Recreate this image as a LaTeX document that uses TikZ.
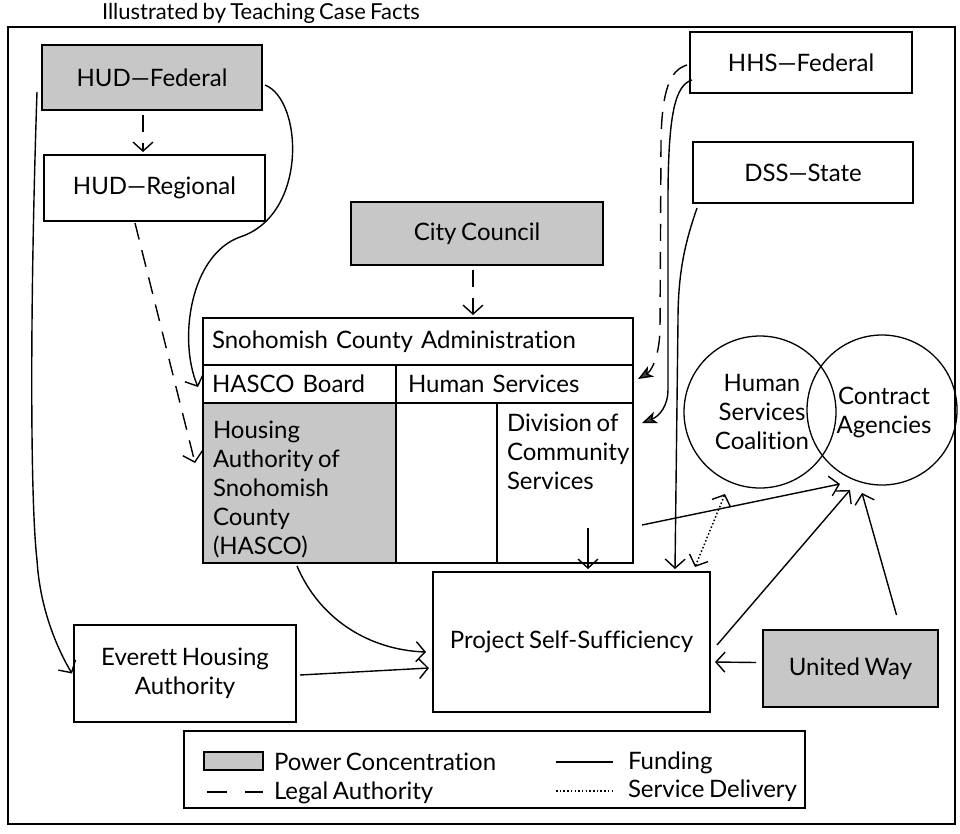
\documentclass[tikz,border=0pt]{standalone}
\usepackage{fontspec}
\setmainfont{Lato}[Ligatures={TeX,NoCommon}, WordSpace=0.75]
\usetikzlibrary{arrows.meta,calc}
\definecolor{shade}{gray}{0.78}
\begin{document}
\begin{tikzpicture}[x=1pt,y=-1pt,
  every node/.style={font=\fontsize{24}{29}\selectfont, inner sep=0pt, outer sep=0pt},
  box/.style={draw, line width=1.6pt, rectangle},
  pwr/.style={box, fill=shade},
  conn/.style={line width=1.4pt},
  fund/.style={conn, -{Straight Barb[length=9pt,width=20pt,line width=1.4pt]}},
  legal/.style={fund, dash pattern=on 17pt off 11pt},
  fillarrow/.style={conn, -{Stealth[length=15pt,width=12pt,inset=4pt,fill=black!75]}},
  legalfill/.style={fillarrow, dash pattern=on 17pt off 11pt},
  dots/.style={conn, line width=1.5pt, dash pattern=on 1.5pt off 2.2pt},
  svc/.style={dots, {Straight Barb[length=9pt,width=20pt,line width=1.4pt]}-{Straight Barb[length=9pt,width=20pt,line width=1.4pt]}},
]
\useasboundingbox (0,0) rectangle (960,833);
% outer frame
\draw[line width=1.4pt] (8,27) rectangle (955,824);
\node[anchor=base west, font=\fontsize{22}{26}\selectfont] (title) at (102,19) {Illustrated by Teaching Case Facts};

% top boxes
\node[pwr, minimum width=220pt, minimum height=65pt] (hudf) at (152,77.5) {HUD—Federal};
\node[box, minimum width=221pt, minimum height=66pt] (hudr) at (154.5,188) {HUD—Regional};
\node[pwr, minimum width=252pt, minimum height=63pt] (city) at (477,233.5) {City Council};
\node[box, minimum width=222pt, minimum height=61pt] (hhs) at (801,62.5) {HHS—Federal};
\node[box, minimum width=220pt, minimum height=61pt] (dss) at (803,172.5) {DSS—State};

% county administration block
\node[box, minimum width=430pt, minimum height=47pt, text width=412pt, align=left] (sca) at (418,341.5) {Snohomish County Administration};
\node[box, minimum width=193pt, minimum height=38pt, text width=175pt, align=left] (board) at (299.5,384) {HASCO Board};
\node[box, minimum width=237pt, minimum height=38pt, text width=213pt, align=left] (hs) at (514.5,384) {Human Services};
\node[pwr, minimum width=193pt, minimum height=160pt] (hasco) at (299.5,483) {};
\node[box, minimum width=101pt, minimum height=160pt] (blank) at (446.5,483) {};
\node[box, minimum width=136pt, minimum height=160pt] (dcs) at (565,483) {};
\node[anchor=north west, align=left] (hascot) at (213,421) {Housing\\Authority of\\Snohomish\\County\\(HASCO)};
\node[anchor=north west, align=left] (dcst) at (507,414) {Division of\\Community\\Services};

% lower boxes
\node[box, minimum width=277pt, minimum height=140pt] (pss) at (571.5,642) {Project Self-Sufficiency};
\node[box, minimum width=222pt, minimum height=97pt, align=center] (eha) at (185,673.5) {Everett Housing\\Authority};
\node[pwr, minimum width=175pt, minimum height=77pt] (uw) at (850.5,668.5) {United Way};

% circles
\node[draw, circle, line width=1.3pt, minimum size=152pt] (hsc) at (760,412) {};
\node[draw, circle, line width=1.3pt, minimum size=150pt] (ca) at (882,410) {};
\node[align=center] (hsct) at (762,412) {Human\\Services\\Coalition};
\node[align=center] (cat) at (884,412) {Contract\\Agencies};

% connectors
\draw[legal] ([xshift=-9pt,yshift=-5pt]hudf.south) -- ([xshift=-11.5pt,yshift=3pt]hudr.north);
\coordinate (bend1) at (240,237);
\draw[fund] ([xshift=3pt,yshift=-7.5pt]hudf.east) .. controls (303,100) and (308,215) .. (bend1)
  .. controls (190,255) and (178,340) .. ([xshift=-5pt,yshift=-3pt]board.west);
\draw[legal] ([xshift=-19.5pt,yshift=-2pt]hudr.south) -- ([xshift=-8pt,yshift=20pt]hasco.west);
\coordinate (bend2) at (37,560);
\draw[fund] ([xshift=-5pt,yshift=-14.5pt]hudf.west) .. controls (30,300) and (30,500) .. (bend2)
  .. controls (40,610) and (58,650) .. ([xshift=-2pt]eha.west);
\draw[legal] ([xshift=-4pt,yshift=-5pt]city.south) -- ([xshift=55pt,yshift=3pt]sca.north);
\coordinate (hhsd1) at (661,140); \coordinate (hhsd2) at (660,330);
\draw[legalfill] ([xshift=-3pt,yshift=-2.5pt]hhs.west) .. controls (670,70) and (662,90) .. (hhsd1) -- (hhsd2)
  .. controls (659,360) and (650,372) .. ([xshift=5pt,yshift=5pt]hs.east);
\coordinate (hhss1) at (668,200); \coordinate (hhss2) at (668,390);
\draw[fillarrow] ([xshift=2pt,yshift=-17.5pt]hhs.west) .. controls (676,85) and (668,110) .. (hhss1) -- (hhss2)
  .. controls (668,405) and (660,416) .. ([xshift=9pt,yshift=-20pt]dcs.north east);
\coordinate (dssb) at (678,320);
\draw[fund] ([xshift=4pt,yshift=-5pt]dss.south west) .. controls (686,240) and (678,270) .. (dssb)
  -- ([xshift=-35pt,yshift=3pt]pss.north east);
\draw[fund] ([xshift=23pt,yshift=35pt]dcs.south) -- ([xshift=16.5pt,yshift=3pt]pss.north);
\draw[fund] ([xshift=-2.5pt,yshift=-3pt]hasco.south) .. controls (320,620) and (370,650) .. ([xshift=-7pt,yshift=-10pt]pss.west);
\draw[fund] ([xshift=4pt,yshift=-1.5pt]eha.east) -- ([xshift=-4pt,yshift=-26pt]pss.west);
\draw[fund] ([xshift=9pt,yshift=-42pt]dcs.east) -- ([xshift=-42pt,yshift=1pt]ca.south);
\draw[fund] ([xshift=7pt,yshift=-3pt]pss.east) -- ([xshift=-32pt,yshift=-5pt]ca.south);
\draw[fund] ([xshift=46pt,yshift=15pt]uw.north) -- ([xshift=-20pt,yshift=-8pt]ca.south);
\draw[fund] ([xshift=-7pt,yshift=6pt]uw.west) -- ([xshift=5pt,yshift=-20pt]pss.east);
\draw[svc] ([xshift=-15pt,yshift=5pt]pss.north east) -- ([xshift=-35pt,yshift=-6pt]hsc.south);

% legend
\node[draw, line width=1.2pt, minimum width=621pt, minimum height=77pt] (leg) at (494.5,769.5) {};
\node[draw, line width=1.2pt, fill=shade, minimum width=59pt, minimum height=18pt] (swatch) at (233.5,761) {};
\node[anchor=base west] (lpc) at (274,770) {Power Concentration};
\coordinate (ld1) at (207,792); \coordinate (ld2) at (263,792);
\draw[conn, dash pattern=on 20pt off 18pt] (ld1) -- (ld2);
\node[anchor=base west] (lla) at (274,799) {Legal Authority};
\coordinate (lf1) at (556,762); \coordinate (lf2) at (613,762);
\draw[conn] (lf1) -- (lf2);
\node[anchor=base west] (lfu) at (628,769) {Funding};
\coordinate (ls1) at (556,791); \coordinate (ls2) at (613,791);
\draw[dots] (ls1) -- (ls2);
\node[anchor=base west] (lsd) at (628,797) {Service Delivery};
\end{tikzpicture}
\end{document}
